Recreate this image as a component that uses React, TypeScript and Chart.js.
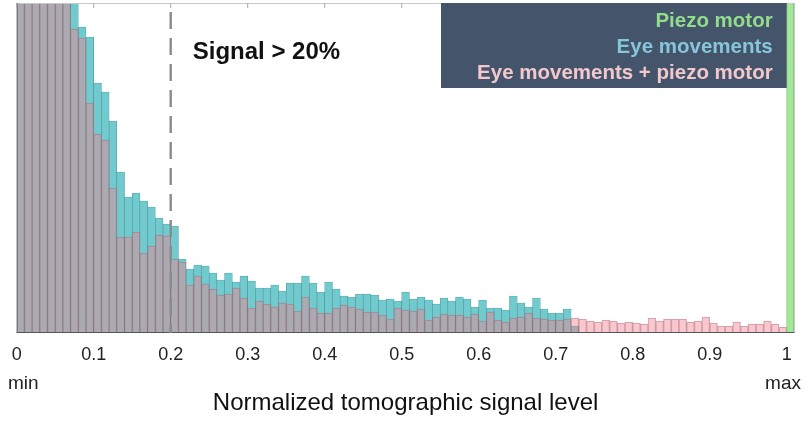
import React, { useEffect, useRef } from "react";
import { Chart, registerables } from "chart.js";

Chart.register(...registerables);

// Histogram bin width (normalized signal units); bins start at 0
const binWidth = 0.01;

// "Eye movements" histogram (bins 0.00 .. 0.72)
const eyeMovements = [
  560, 640, 600, 520, 470, 430, 390, 345, 306, 296,
  250, 241, 212, 161, 136, 140, 132, 126, 115, 109,
  107, 74, 64, 68, 67, 60, 53, 60, 51, 57,
  52, 45, 45, 48, 42, 50, 50, 57, 50, 41,
  51, 44, 37, 36, 39, 39, 38, 33, 34, 32,
  41, 34, 36, 33, 29, 35, 32, 36, 34, 26,
  33, 25, 25, 23, 37, 30, 26, 35, 24, 20,
  20, 24, 7,
];

// "Eye movements + piezo motor" histogram (bins 0.00 .. 0.99)
const eyePiezo = [
  520, 600, 560, 480, 430, 390, 350, 304, 295, 230,
  199, 193, 145, 96, 96, 101, 80, 87, 98, 97,
  74, 71, 48, 57, 49, 44, 38, 39, 45, 35,
  25, 32, 29, 26, 30, 29, 22, 36, 25, 20,
  20, 25, 28, 26, 24, 21, 21, 18, 14, 25,
  23, 22, 24, 13, 16, 19, 18, 18, 16, 19,
  12, 21, 13, 11, 15, 16, 20, 15, 14, 13,
  13, 14, 15, 14, 12, 11, 13, 12, 10, 11,
  10, 9, 15, 12, 14, 14, 14, 11, 12, 16,
  10, 7, 7, 11, 7, 9, 9, 12, 9, 6,
];

// "Piezo motor" histogram: a single bin starting at 1.00
const piezoMotor = [1000];
const piezoStartBin = 100;

const xTicks = [0, 0.1, 0.2, 0.3, 0.4, 0.5, 0.6, 0.7, 0.8, 0.9, 1];
const xMin = 0;
const xMax = 1.01;
const yMax = 330;

const legendLabels = ["Piezo motor", "Eye movements", "Eye movements + piezo motor"];
const legendColors = ["#92dc8c", "#86c6d8", "#f3c8cc"];
const thresholdValue = 0.2;
const thresholdLabel = "Signal > 20%";
const axisTitle = "Normalized tomographic signal level";
const endLabels = ["min", "max"];

const FONT = "'Liberation Sans', Arial, sans-serif";

const toPoints = (vals: number[], startBin: number) =>
  vals.map((y, i) => ({ x: (startBin + i + 0.5) * binWidth, y }));

const overlayPlugin = {
  id: "overlay",
  afterDatasetsDraw(chart: any) {
    const { ctx, chartArea } = chart;
    const xs = chart.scales.x;
    const { left, right, top, bottom } = chartArea;
    ctx.save();
    ctx.lineWidth = 1;
    ctx.strokeStyle = "#c8c8c8";
    ctx.beginPath();
    ctx.moveTo(left, top + 0.5);
    ctx.lineTo(right, top + 0.5);
    ctx.stroke();
    ctx.strokeStyle = "#9a9a9a";
    ctx.beginPath();
    ctx.moveTo(right - 0.5, top);
    ctx.lineTo(right - 0.5, bottom);
    ctx.stroke();
    ctx.strokeStyle = "#6a6a6a";
    ctx.beginPath();
    ctx.moveTo(left + 0.5, top);
    ctx.lineTo(left + 0.5, bottom);
    ctx.stroke();
    ctx.strokeStyle = "#555";
    ctx.beginPath();
    ctx.moveTo(left, bottom - 0.5);
    ctx.lineTo(right, bottom - 0.5);
    ctx.stroke();
    ctx.strokeStyle = "#aaaaaa";
    xTicks.forEach((t) => {
      const px = xs.getPixelForValue(t);
      ctx.beginPath();
      ctx.moveTo(px, top);
      ctx.lineTo(px, top + 5);
      ctx.stroke();
    });
    const tx = xs.getPixelForValue(thresholdValue);
    ctx.strokeStyle = "#8a8a8a";
    ctx.lineWidth = 2.4;
    ctx.setLineDash([17, 9]);
    ctx.beginPath();
    ctx.moveTo(tx, top + 9);
    ctx.lineTo(tx, bottom);
    ctx.stroke();
    ctx.setLineDash([]);
    ctx.restore();
  },
  afterDraw(chart: any) {
    const { ctx, chartArea } = chart;
    const xs = chart.scales.x;
    const { top, bottom } = chartArea;
    ctx.save();
    ctx.fillStyle = "#111";
    ctx.font = `bold 24px ${FONT}`;
    ctx.textAlign = "left";
    ctx.textBaseline = "middle";
    ctx.fillText(thresholdLabel, xs.getPixelForValue(thresholdValue) + 22, 52);
    const boxLeft = 441;
    const boxRight = xs.getPixelForValue(1);
    ctx.fillStyle = "#44546a";
    ctx.fillRect(boxLeft, top, boxRight - boxLeft, 85);
    ctx.font = `bold 20.5px ${FONT}`;
    ctx.textAlign = "right";
    legendLabels.forEach((lab, i) => {
      ctx.fillStyle = legendColors[i];
      ctx.fillText(lab, boxRight - 14, 21 + i * 26);
    });
    ctx.fillStyle = "#222";
    ctx.font = `19px ${FONT}`;
    ctx.textAlign = "left";
    ctx.fillText(endLabels[0], 8, bottom + 51);
    ctx.textAlign = "right";
    ctx.fillText(endLabels[1], 801, bottom + 51);
    ctx.restore();
  },
};

export default function App() {
  const ref = useRef<HTMLCanvasElement | null>(null);
  useEffect(() => {
    if (!ref.current) return;
    const common = {
      grouped: false,
      barPercentage: 1,
      categoryPercentage: 1,
      clip: 0,
      borderSkipped: "start",
    };
    const chart = new Chart(ref.current, {
      type: "bar",
      data: {
        datasets: [
          {
            label: "Eye movements",
            data: toPoints(eyeMovements, 0),
            backgroundColor: "rgb(112,202,206)",
            borderColor: "rgb(78,148,154)",
            borderWidth: 0.6,
            order: 3,
            ...common,
          },
          {
            label: "Eye movements + piezo motor",
            data: toPoints(eyePiezo, 0),
            backgroundColor: "rgba(241,131,144,0.45)",
            borderColor: "rgba(140,92,102,0.45)",
            borderWidth: 0.6,
            order: 2,
            ...common,
          },
          {
            label: "Piezo motor",
            data: toPoints(piezoMotor, piezoStartBin),
            backgroundColor: "rgb(160,234,150)",
            borderColor: "rgb(105,175,95)",
            borderWidth: 0.8,
            order: 1,
            ...common,
          },
        ] as any,
      },
      options: {
        responsive: false,
        animation: false,
        devicePixelRatio: 1,
        layout: { padding: { left: 16.7, right: 10.6, top: 3, bottom: 0 } },
        plugins: { legend: { display: false }, tooltip: { enabled: false } },
        scales: {
          x: {
            type: "linear",
            offset: false,
            min: xMin,
            max: xMax,
            grid: { display: false, offset: false },
            border: { display: false },
            afterBuildTicks: (s: any) => {
              s.ticks = xTicks.map((v) => ({ value: v }));
            },
            afterFit: (s: any) => {
              s.height = 90;
            },
            ticks: {
              autoSkip: false,
              maxRotation: 0,
              padding: 3,
              color: "#222",
              font: { family: FONT, size: 18 },
              callback: (v: any) => String(Number(Number(v).toFixed(1))),
            },
            title: {
              display: true,
              text: axisTitle,
              color: "#111",
              font: { family: FONT, size: 24 },
              padding: { top: 0, bottom: 5 },
            },
          },
          y: { display: false, min: 0, max: yMax },
        },
      } as any,
      plugins: [overlayPlugin],
    });
    return () => chart.destroy();
  }, []);
  return (
    <div style={{ position: "absolute", left: 0, top: 0, width: 805, height: 423, background: "#fff" }}>
      <canvas ref={ref} width={805} height={423} style={{ width: 805, height: 423, display: "block" }} />
    </div>
  );
}
